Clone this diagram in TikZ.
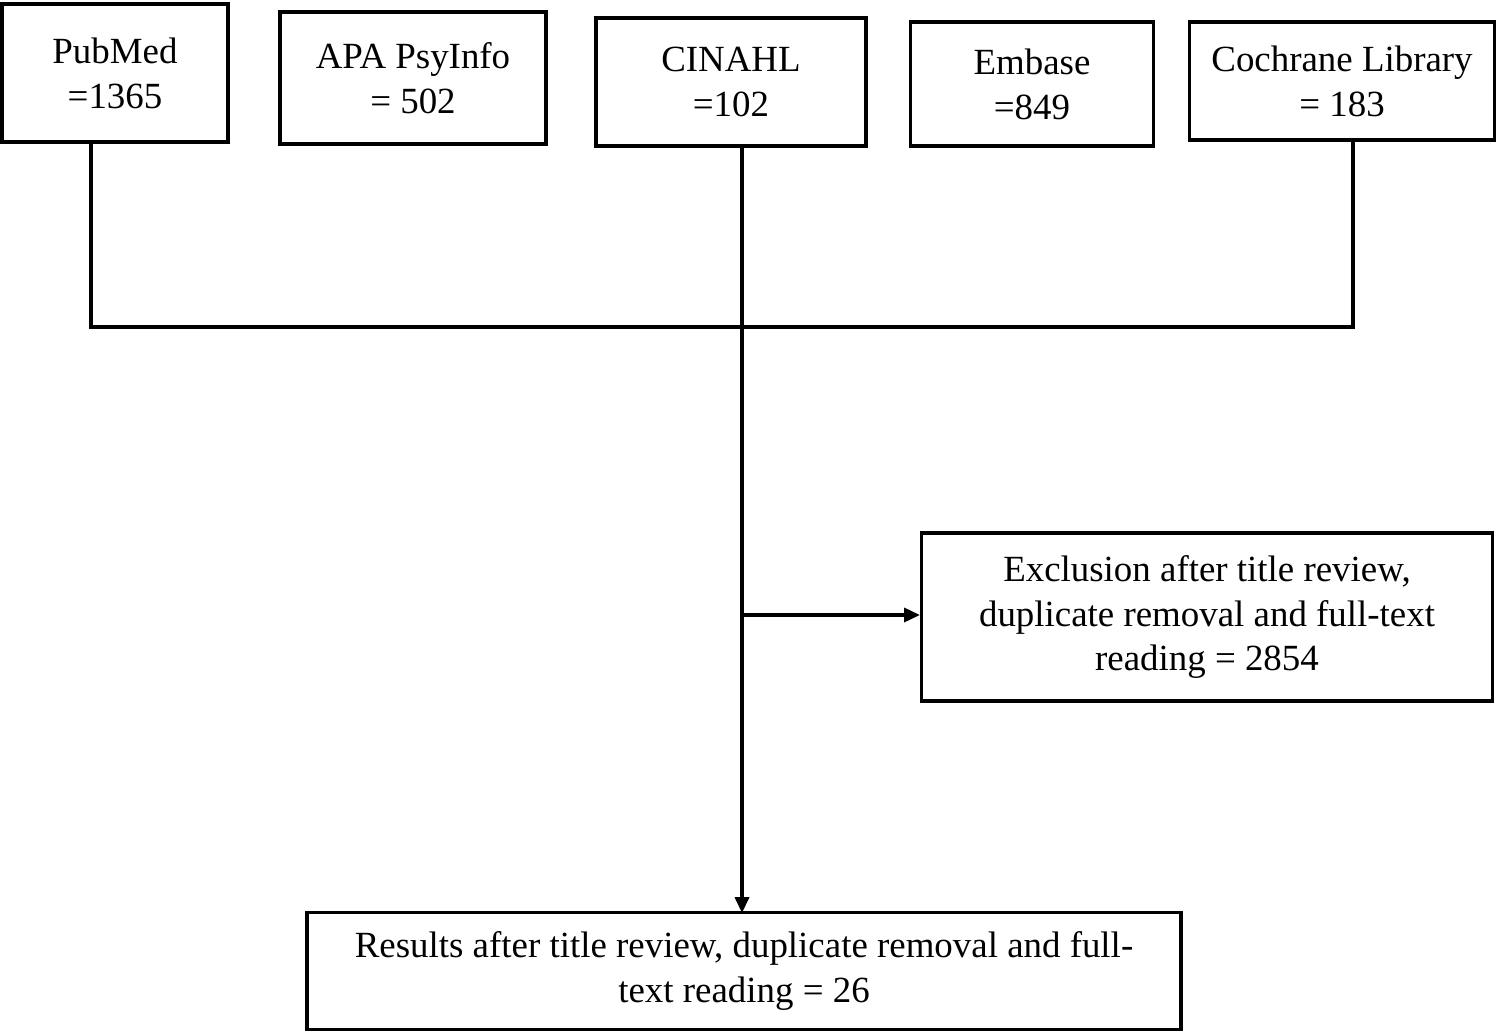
\documentclass[tikz,border=0pt]{standalone}
\usepackage{fontspec}
\setmainfont{Liberation Serif}
\usetikzlibrary{arrows.meta, positioning}
\tikzset{
  src/.style = {rectangle, draw = black, line width = 1.8pt, align = center,
    inner sep = 0, font = \fontsize{21}{25.5}\selectfont},
  link/.style = {line width = 1.8pt},
  arr/.style = {link, -{Triangle[length = 9pt, width = 8pt]}}
}
\begin{document}
\begin{tikzpicture}[x = 0.02cm, y = -0.02cm]
    \useasboundingbox (0, 0) rectangle (1500, 1034);
    \node [src, minimum width = 226*0.02cm, minimum height = 138*0.02cm] (pubmed) at (115, 73) {PubMed\\=1365};
    \node [src, minimum width = 266*0.02cm, minimum height = 132*0.02cm] (apa) at (413, 78) {APA PsyInfo\\= 502};
    \node [src, minimum width = 270*0.02cm, minimum height = 128*0.02cm] (cinahl) at (731, 82) {CINAHL\\=102};
    \node [src, minimum width = 243*0.02cm, minimum height = 124*0.02cm] (embase) at (1032, 84) {Embase\\=849};
    \node [src, minimum width = 305*0.02cm, minimum height = 118*0.02cm] (cochrane) at (1342, 81) {Cochrane Library\\= 183};
    \node [src, minimum width = 571*0.02cm, minimum height = 168*0.02cm] (excl) at (1207, 617) {Exclusion after title review,\\duplicate removal and full-text\\reading = 2854};
    \node [src, minimum width = 874*0.02cm, minimum height = 117*0.02cm] (res) at (744, 971) {Results after title review, duplicate removal and full-\\text reading = 26};
    \coordinate (left) at (91, 327);
    \coordinate (right) at (1353, 327);
    \coordinate (split) at (742, 615);
    \draw [link] (91, 142) -- (left) -- (right) -- (1353, 140);
    \draw [arr] (742, 146) -- (742, 913);
    \draw [arr] (split) -- (excl.west |- split);
\end{tikzpicture}
\end{document}
